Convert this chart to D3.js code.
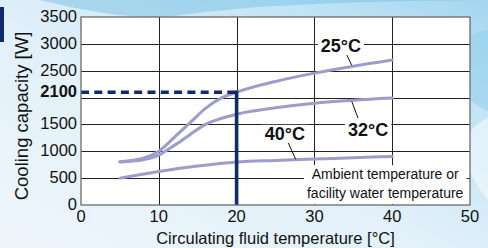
<!DOCTYPE html>
<html>
<head>
<meta charset="utf-8">
<script src="https://cdn.jsdelivr.net/npm/d3@7"></script>
<style>
  html, body { margin: 0; padding: 0; background: #fff; }
  svg { display: block; font-family: "Liberation Sans", Arial, sans-serif; }
</style>
</head>
<body>
<div id="chart"></div>
<script>
// 数据：循环液温度 [°C] 与冷却能力 [W]
const temp25 = [5, 8, 10, 12, 14, 16, 18, 20, 25, 30, 35, 40];
const cap25  = [807, 870, 1000, 1260, 1530, 1800, 1990, 2100, 2300, 2455, 2585, 2700];
const temp32 = [5, 8, 10, 12, 14, 16, 18, 20, 25, 30, 35, 40];
const cap32  = [800, 840, 930, 1110, 1310, 1500, 1610, 1690, 1810, 1895, 1950, 1990];
const temp40 = [5, 10, 15, 20, 25, 30, 35, 40];
const cap40  = [500, 625, 725, 800, 830, 855, 880, 905];

const xTicks = [0, 10, 20, 30, 40, 50];
const yTicks = [0, 500, 1000, 1500, 2100, 2500, 3000, 3500];
const yGrid  = [500, 1000, 1500, 2000, 2500, 3000];

// 工作点（虚线标注）
const markTemp = 20;
const markCap = 2100;

// 标注：文字位置与引线（数据坐标）
const labels = [
  { text: '25°C', x: 33.4, y: 2960, x1: 33.8, y1: 2905, x2: 34.8, y2: 2600 },
  { text: '32°C', x: 36.9, y: 1400, x1: 34.8, y1: 1930, x2: 35.6, y2: 1620 },
  { text: '40°C', x: 26.2, y: 1325, x1: 26.6, y1: 1170, x2: 27.6, y2: 850 }
];
const noteLines = ['Ambient temperature or', 'facility water temperature'];
const noteX = 39.1, noteY = [575, 232];

const W = 488, H = 248;
const margin = { left: 81, right: 18, top: 17, bottom: 43 };
const navy = '#0c2c6c';
const curveColor = '#9c9dcb';

const svg = d3.select('#chart').append('svg')
  .attr('width', W).attr('height', H);

// 背景渐变
const defs = svg.append('defs');
const bg = defs.append('linearGradient').attr('id', 'bg')
  .attr('x1', 0).attr('y1', 1).attr('x2', 1).attr('y2', 0);
bg.append('stop').attr('offset', 0).attr('stop-color', '#eef6fb');
bg.append('stop').attr('offset', 0.45).attr('stop-color', '#e2f0f9');
bg.append('stop').attr('offset', 0.8).attr('stop-color', '#bfe3f5');
bg.append('stop').attr('offset', 1).attr('stop-color', '#a3d6f0');
svg.append('rect').attr('width', W).attr('height', H).attr('fill', 'url(#bg)');

// 顶部波纹
svg.append('path')
  .attr('d', 'M40,0 C90,12 140,22 190,14 C250,6 320,2 488,0 Z')
  .attr('fill', '#7fc4e6').attr('opacity', 0.55);
svg.append('path')
  .attr('d', 'M488,30 C440,40 430,70 470,100 C480,108 488,110 488,112 Z')
  .attr('fill', '#8fcdec').attr('opacity', 0.5);
svg.append('path')
  .attr('d', 'M488,118 C460,130 455,160 488,200 Z')
  .attr('fill', '#f4fafd').attr('opacity', 0.6);

// 左上角色块
svg.append('rect').attr('x', 0).attr('y', 7).attr('width', 4).attr('height', 35).attr('fill', navy);

const x = d3.scaleLinear().domain([0, 50]).range([margin.left, W - margin.right]);
const y = d3.scaleLinear().domain([0, 3500]).range([H - margin.bottom, margin.top]);

// 绘图区
svg.append('rect')
  .attr('x', x(0)).attr('y', y(3500))
  .attr('width', x(50) - x(0)).attr('height', y(0) - y(3500))
  .attr('fill', '#fff');

// 网格线
const grid = svg.append('g').attr('stroke', '#222').attr('stroke-width', 1);
grid.selectAll('.hg').data(yGrid).enter().append('line')
  .attr('x1', x(0)).attr('x2', x(50))
  .attr('y1', d => Math.round(y(d)) + 0.5).attr('y2', d => Math.round(y(d)) + 0.5);
grid.selectAll('.vg').data([10, 20, 30, 40]).enter().append('line')
  .attr('y1', y(0)).attr('y2', y(3500))
  .attr('x1', d => Math.round(x(d)) + 0.5).attr('x2', d => Math.round(x(d)) + 0.5);

// 曲线
const line = d3.line()
  .x(d => x(d[0])).y(d => y(d[1]))
  .curve(d3.curveMonotoneX);
const series = [
  d3.zip(temp25, cap25),
  d3.zip(temp32, cap32),
  d3.zip(temp40, cap40)
];
svg.append('g').selectAll('path').data(series).enter().append('path')
  .attr('d', line)
  .attr('fill', 'none')
  .attr('stroke', curveColor)
  .attr('stroke-width', 3)
  .attr('stroke-linecap', 'round');

// 工作点标注线
svg.append('line')
  .attr('x1', x(0)).attr('x2', x(markTemp))
  .attr('y1', y(markCap)).attr('y2', y(markCap))
  .attr('stroke', navy).attr('stroke-width', 3.4)
  .attr('stroke-dasharray', '8,5.3');
svg.append('line')
  .attr('x1', x(markTemp)).attr('x2', x(markTemp))
  .attr('y1', y(markCap) - 1.7).attr('y2', y(0))
  .attr('stroke', navy).attr('stroke-width', 3.6);

// 图框
svg.append('rect')
  .attr('x', x(0)).attr('y', y(3500))
  .attr('width', x(50) - x(0)).attr('height', y(0) - y(3500))
  .attr('fill', 'none').attr('stroke', '#6a6a6a').attr('stroke-width', 1.3);

// 温度标签（白底遮住网格线）
const pad = 3;
labels.forEach(l => {
  svg.append('line')
    .attr('x1', x(l.x1)).attr('y1', y(l.y1))
    .attr('x2', x(l.x2)).attr('y2', y(l.y2))
    .attr('stroke', '#111').attr('stroke-width', 1);
  const g = svg.append('g');
  const t = g.append('text')
    .attr('x', x(l.x)).attr('y', y(l.y))
    .attr('text-anchor', 'middle')
    .attr('dominant-baseline', 'central')
    .attr('font-size', 18).attr('font-weight', 'bold')
    .attr('fill', '#111')
    .text(l.text);
  const b = t.node().getBBox();
  g.insert('rect', 'text')
    .attr('x', b.x - pad).attr('y', b.y + 1)
    .attr('width', b.width + pad * 2).attr('height', b.height - 2)
    .attr('fill', '#fff');
});

// 说明文字
const note = svg.append('g');
note.selectAll('text').data(noteLines).enter().append('text')
  .attr('x', x(noteX)).attr('y', (d, i) => y(noteY[i]))
  .attr('text-anchor', 'middle')
  .attr('dominant-baseline', 'central')
  .attr('font-size', 14).attr('fill', '#111')
  .text(d => d);
const nb = note.node().getBBox();
note.insert('rect', 'text')
  .attr('x', nb.x - 3).attr('y', nb.y - 1)
  .attr('width', nb.width + 6).attr('height', y(0) - nb.y)
  .attr('fill', '#fff');

// 坐标轴刻度
svg.append('g').selectAll('text').data(yTicks).enter().append('text')
  .attr('x', x(0) - 4).attr('y', d => y(d) - 1)
  .attr('text-anchor', 'end')
  .attr('dominant-baseline', 'central')
  .attr('font-size', 16.5)
  .attr('font-weight', d => d === markCap ? 'bold' : 'normal')
  .attr('fill', '#111')
  .text(d => d);
svg.append('g').selectAll('text').data(xTicks).enter().append('text')
  .attr('x', d => x(d)).attr('y', y(0) + 16.5)
  .attr('text-anchor', 'middle')
  .attr('font-size', 16.5).attr('fill', '#111')
  .text(d => d);

// 轴标题
svg.append('text')
  .attr('x', (x(0) + x(50)) / 2).attr('y', H - 4)
  .attr('text-anchor', 'middle')
  .attr('font-size', 16.5).attr('fill', '#111')
  .text('Circulating fluid temperature [°C]');
svg.append('text')
  .attr('transform', `translate(21,${(y(0) + y(3500)) / 2 + 5}) rotate(-90)`)
  .attr('text-anchor', 'middle')
  .attr('dominant-baseline', 'central')
  .attr('font-size', 18.5).attr('fill', '#111')
  .text('Cooling capacity [W]');
</script>
</body>
</html>
